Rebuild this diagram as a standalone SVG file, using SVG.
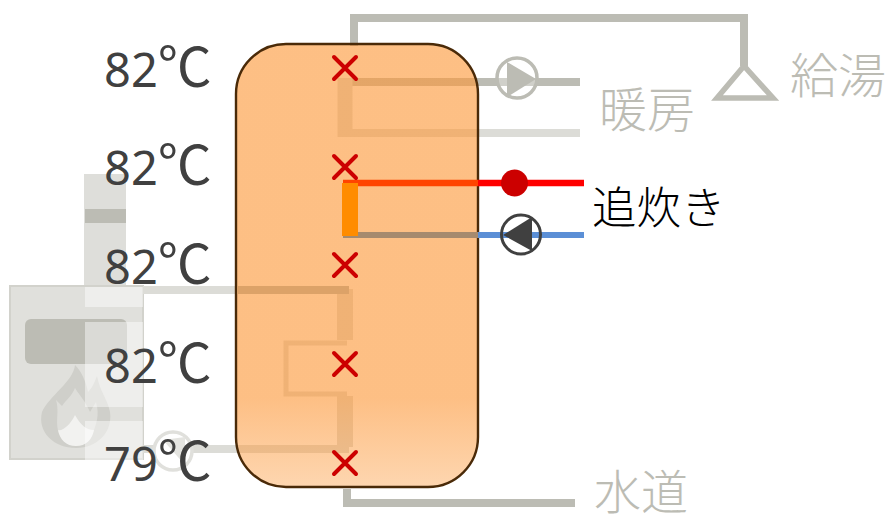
<svg xmlns="http://www.w3.org/2000/svg" width="890" height="518" viewBox="0 0 890 518">
<style>
.t{font-family:"Noto Sans CJK JP","Noto Sans",sans-serif;font-weight:300}
.temp{font-family:"Noto Sans","Noto Sans CJK JP",sans-serif;font-size:47px;fill:#404040}
.tc{font-family:"Noto Sans CJK JP",sans-serif;font-size:54px;font-weight:400;fill:#404040}
.g{fill:#bcbcb4;font-size:48px}
.p{fill:none;stroke:#bcbcb4;stroke-width:8}
.pl{fill:none;stroke:#dcdcd7;stroke-width:8}
.x{stroke:#cc0000;stroke-width:4;stroke-linecap:round;fill:none}
</style>
<defs>
<linearGradient id="tg" x1="0" y1="44" x2="0" y2="487" gradientUnits="userSpaceOnUse">
<stop offset="0" stop-color="#fc9839" stop-opacity=".62"/>
<stop offset=".8" stop-color="#fc9839" stop-opacity=".62"/>
<stop offset="1" stop-color="#fc9839" stop-opacity=".4"/>
</linearGradient>
</defs>
<g id="boiler">
<rect x="84" y="174" width="42" height="112" fill="#dededa"/>
<rect x="85" y="209" width="41" height="14" fill="#bcbcb4"/>
<rect x="10" y="286" width="133" height="173" fill="#e0e0dc" stroke="#d2d2cc" stroke-width="2"/>
<rect x="25" y="319" width="102" height="45" rx="6" fill="#bcbcb4"/>
<path d="M75 365C73 382 50 395 42 412C37 432 54 448 76 448C97 448 113 432 110 412C107 398 100 392 97 376C94 384 92 388 88 392C86 382 82 372 75 365Z" fill="#cfcfca"/>
<path d="M75 388C72 396 66 400 62 406L56 400C60 414 54 422 60 436L92 436C96 424 100 416 96 402L90 412C86 402 80 396 75 388Z" fill="#dededa"/>
<path d="M75 415C71 424 62 432 58 430C60 440 66 446 76 446C86 446 92 440 94 430C86 430 80 424 75 415Z" fill="#f2f2f0"/>
<rect x="85" y="287" width="58" height="20" fill="#fff" fill-opacity=".45"/>
<rect x="85" y="322" width="58" height="85" fill="#fff" fill-opacity=".45"/>
<rect x="85" y="421" width="58" height="39" fill="#fff" fill-opacity=".45"/>
</g>
<g id="connectors">
<path class="pl" d="M143 290H349"/>
<path class="pl" d="M143 449H349"/>
<circle cx="173" cy="451" r="19" fill="#fff" stroke="#e0e0dc" stroke-width="3.500"/>
<path d="M163 440L185 437V465Z" fill="#e4e4e0"/>
<path class="p" d="M354 46V18H744V66"/>
<path class="p" d="M347 489V503H575"/>
<path class="p" d="M345 82H580"/>
<path class="pl" d="M345 80V133H580"/>
<path d="M345 78V137" stroke="#dcdcd7" stroke-width="15" fill="none"/>
<path class="pl" style="stroke-width:16" d="M345 289V340"/>
<path class="pl" style="stroke-width:5" d="M347 343H286V394H347"/>
<path class="pl" style="stroke-width:16" d="M345 396V447"/>
</g>
<g id="tank">
<rect x="236" y="44" width="242" height="443" rx="50" fill="url(#tg)" stroke="#4a2a08" stroke-width="2.400"/>
<path d="M237 290H349" stroke="#dca268" stroke-width="8"/>
</g>
<g id="reheat">
<path d="M343 183H478" stroke="#ff4400" stroke-width="6.500"/>
<path d="M478 183H584" stroke="#ff0000" stroke-width="6.500"/>
<path d="M343 235H478" stroke="#a68a6e" stroke-width="6"/>
<path d="M478 235H584" stroke="#5b8fd6" stroke-width="6"/>
<rect x="342" y="183" width="16" height="53" fill="#ff8c00"/>
<circle cx="514.500" cy="183" r="13.500" fill="#cc0000"/>
</g>
<g id="pump-reheat">
<circle cx="521" cy="234.500" r="19.500" fill="none" stroke="#404040" stroke-width="3"/>
<path d="M503 235L532 217V251Z" fill="#404040"/>
</g>
<g id="pump-heating">
<circle cx="517" cy="78" r="20" fill="#fff" fill-opacity=".3" stroke="#bcbcb4" stroke-width="3.500"/>
<path d="M507 62L536 79L507 97Z" fill="#bcbcb4"/>
</g>
<g id="tap">
<path d="M744 66L717 98H773Z" fill="none" stroke="#bcbcb4" stroke-width="5.500"/>
</g>
<g id="sensors">
<path class="x" d="M334 57L356 79M356 57L334 79"/>
<path class="x" d="M334 156L356 178M356 156L334 178"/>
<path class="x" d="M334 254L356 276M356 254L334 276"/>
<path class="x" d="M334 353L356 375M356 353L334 375"/>
<path class="x" d="M334 452L356 474M356 452L334 474"/>
</g>
<g id="temps">
<text class="temp" x="104" y="87">82<tspan class="tc">℃</tspan></text>
<text class="temp" x="104" y="185">82<tspan class="tc">℃</tspan></text>
<text class="temp" x="104" y="284">82<tspan class="tc">℃</tspan></text>
<text class="temp" x="104" y="383">82<tspan class="tc">℃</tspan></text>
<text class="temp" x="104" y="481">79<tspan class="tc">℃</tspan></text>
</g>
<g id="labels">
<text class="t g" x="790" y="93">給湯</text>
<text class="t g" x="599" y="127">暖房</text>
<text class="t g" x="594" y="509" style="font-size:47px">水道</text>
<text class="t" x="592" y="224" font-size="44.500" fill="#000">追炊き</text>
</g>
</svg>
